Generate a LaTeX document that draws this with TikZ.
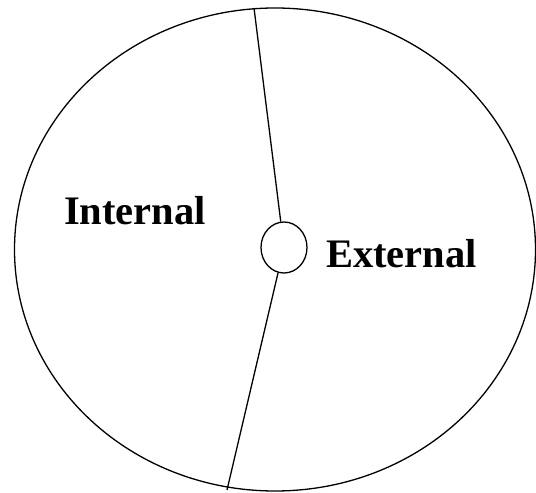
\documentclass[tikz,border=0pt]{standalone}
\usepackage{fontspec}
\setmainfont{Liberation Serif}
\usepackage{tikz}
\usetikzlibrary{shapes.geometric}

\begin{document}
\begin{tikzpicture}[x=1pt,y=1pt,ring/.style={draw,ellipse,line width=1.3pt,inner sep=0pt},lbl/.style={font=\fontsize{40.5}{48}\selectfont\bfseries,anchor=base,inner sep=0pt}]
\useasboundingbox (0,0) rectangle (536,493);
\node[ring,minimum width=521pt,minimum height=483pt] (outer) at (275,243.5) {};
\node[ring,minimum width=46pt,minimum height=51pt] (hub) at (284,245.5) {};
\coordinate (top) at (254,485);
\coordinate (bot) at (227,3);
\draw[line width=1.3pt] (top)--(hub); \draw[line width=1.3pt] (hub)--(bot);
\node[lbl] (int) at (135,268) {Internal};
\node[lbl] (ext) at (401.5,225) {External};
\end{tikzpicture}
\end{document}
